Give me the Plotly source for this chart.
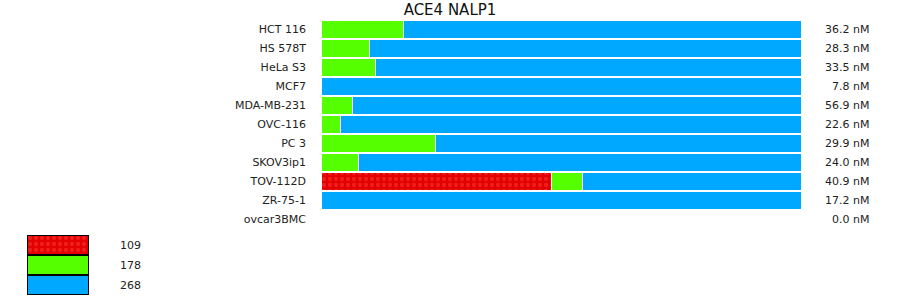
import plotly.graph_objects as go

W, H = 900, 299

cell_lines = ["HCT 116", "HS 578T", "HeLa S3", "MCF7", "MDA-MB-231", "OVC-116",
              "PC 3", "SKOV3ip1", "TOV-112D", "ZR-75-1", "ovcar3BMC"]
series_names = ["109", "178", "268"]
frac_109 = [0, 0, 0, 0, 0, 0, 0, 0, 0.480, 0, 0]
frac_178 = [0.172, 0.102, 0.113, 0, 0.065, 0.040, 0.238, 0.079, 0.064, 0, 0]
frac_268 = [0.828, 0.898, 0.887, 1.0, 0.935, 0.962, 0.762, 0.921, 0.456, 1.0, 0]
conc_labels = ["36.2 nM", "28.3 nM", "33.5 nM", "7.8 nM", "56.9 nM", "22.6 nM",
               "29.9 nM", "24.0 nM", "40.9 nM", "17.2 nM", "0.0 nM"]
title_text = "ACE4 NALP1"

RED, GREEN, BLUE = "#E20000", "#55FF00", "#00A8FF"
FONT = "DejaVu Sans"

def px_x(p):
    return p / W

def px_y(p):
    return 1 - p / H

fig = go.Figure()

red_pattern = dict(shape=".", fgcolor="#FF3A3A", bgcolor=RED, size=6, solidity=0.4)

for name, vals, col in zip(series_names, [frac_109, frac_178, frac_268], [RED, GREEN, BLUE]):
    marker = dict(color=col, line=dict(color="white", width=1))
    if name == "109":
        marker["pattern"] = red_pattern
    fig.add_trace(go.Bar(
        x=vals, y=cell_lines, orientation="h", name=name, width=0.95,
        marker=marker, xaxis="x", yaxis="y", showlegend=False, hoverinfo="skip"))

# legend as a small bar subplot
for name, col in zip(series_names, [RED, GREEN, BLUE]):
    marker = dict(color=col, line=dict(color="black", width=1.5))
    if name == "109":
        marker["pattern"] = red_pattern
    fig.add_trace(go.Bar(
        x=[1], y=[name], orientation="h", width=1, marker=marker,
        xaxis="x2", yaxis="y2", showlegend=False, hoverinfo="skip"))

for lab, cat in zip(conc_labels, cell_lines):
    fig.add_annotation(x=px_x(871), xref="paper", y=cat, yref="y", text=lab,
                       showarrow=False, xanchor="right", yanchor="middle",
                       font=dict(family=FONT, size=11, color="#222"))

fig.update_layout(
    width=W, height=H, margin=dict(l=0, r=0, t=0, b=0),
    paper_bgcolor="white", plot_bgcolor="white",
    barmode="stack",
    font=dict(family=FONT, size=11, color="#222"),
    title=dict(text=title_text, x=0.5, xanchor="center", y=px_y(10), yanchor="middle",
               yref="container", font=dict(family=FONT, size=15, color="#111")),
    xaxis=dict(domain=[px_x(321), px_x(801)], range=[0, 1], visible=False, fixedrange=True),
    yaxis=dict(domain=[px_y(229), px_y(20)], categoryorder="array", categoryarray=cell_lines,
               autorange="reversed", showgrid=False, zeroline=False, showline=False,
               ticks="", ticklabelstandoff=14, tickfont=dict(family=FONT, size=11, color="#222")),
    xaxis2=dict(domain=[px_x(27), px_x(89)], range=[0, 1], visible=False, anchor="y2"),
    yaxis2=dict(domain=[px_y(295), px_y(235)], anchor="x2", side="right",
                categoryorder="array", categoryarray=series_names, autorange="reversed",
                showgrid=False, zeroline=False, showline=False, ticks="",
                ticklabelstandoff=30, tickfont=dict(family=FONT, size=11, color="#222")),
)

fig.write_html("out.html")
